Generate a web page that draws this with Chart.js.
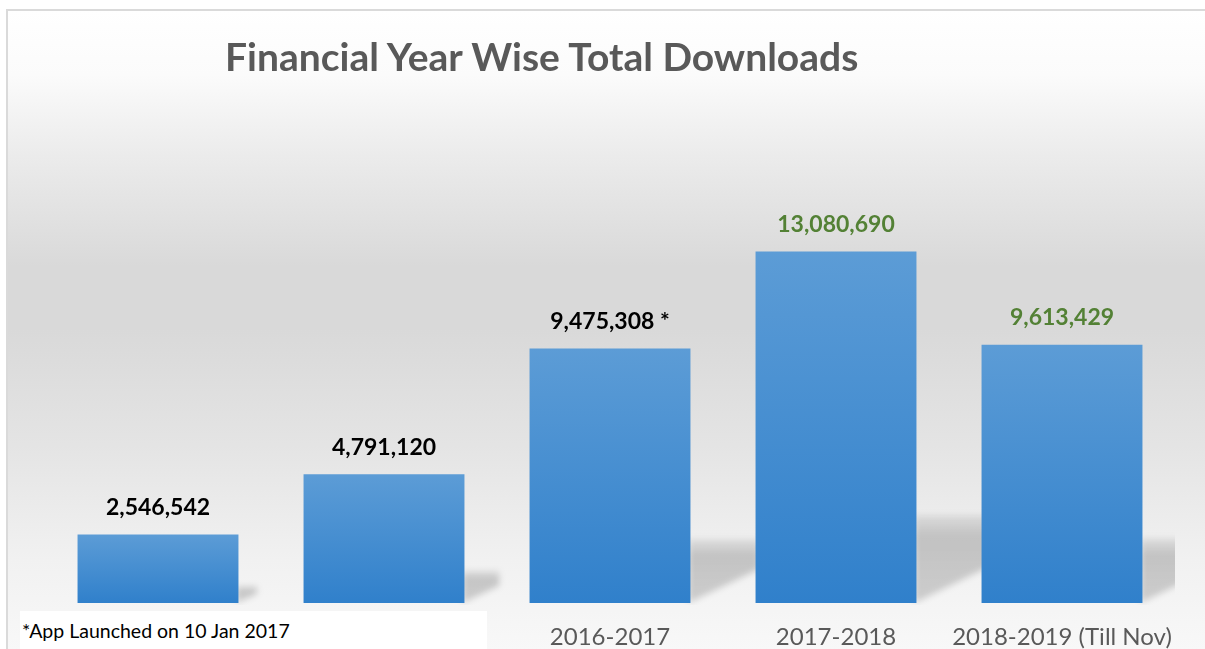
<!DOCTYPE html>
<html>
<head>
<meta charset="utf-8">
<title>Financial Year Wise Total Downloads</title>
<script src="https://cdn.jsdelivr.net/npm/chart.js@4/dist/chart.umd.min.js"></script>
<style>
  html, body { margin: 0; padding: 0; background: #ffffff; }
  body { width: 1205px; height: 649px; position: relative; overflow: hidden; font-family: Lato, "Open Sans", sans-serif; }
  /* panel with the grey sheen behind the bars */
  .panel {
    position: absolute; left: 6px; top: 9px; right: 0; bottom: 0;
    border-top: 2px solid #dadada; border-left: 2px solid #dadada;
    background: linear-gradient(to bottom,
      #ffffff 0%, #fbfbfb 10%, #ececec 22%, #d9d9d9 40%, #d9d9d9 50%,
      #e4e4e4 68%, #f1f1f1 86%, #f8f8f8 100%);
  }
  .chart-box { position: absolute; left: 0; top: 0; width: 1205px; height: 649px; }
  .title {
    position: absolute; left: 225px; top: 37px; margin: 0;
    font: bold 39px/1 Lato, sans-serif; color: #595959; white-space: nowrap;
  }
  .note {
    position: absolute; left: 20px; top: 611px; width: 467px; height: 38px;
    background: #ffffff; box-sizing: border-box; padding: 10px 0 0 2px;
    font: 19.5px/1 Lato, sans-serif; color: #000000; white-space: nowrap;
  }
</style>
</head>
<body>
<div class="panel"></div>
<div class="chart-box"><canvas id="downloadsChart"></canvas></div>
<h1 class="title">Financial Year Wise Total Downloads</h1>
<div class="note">*App Launched on 10 Jan 2017</div>

<script>
// DATA
const categories = ['', '', '2016-2017', '2017-2018', '2018-2019 (Till Nov)'];
const downloads = [2546542, 4791120, 9475308, 13080690, 9613429];
const valueNotes = ['', '', ' *', '', ''];

// label colours per bar (last two years in green)
const valueLabelColors = ['#000000', '#000000', '#000000', '#538135', '#538135'];

const BAR_TOP = '#5c9cd6';
const BAR_BOTTOM = '#3080cb';

// soft skewed shadow to the right of every bar
const barShadows = {
    id: 'barShadows',
    beforeDatasetsDraw(chart) {
        const ctx = chart.ctx;
        const area = chart.chartArea;
        ctx.save();
        ctx.beginPath();
        ctx.rect(area.left, area.top, area.right - area.left, area.bottom - area.top + 2);
        ctx.clip();
        ctx.filter = 'blur(3px)';
        chart.getDatasetMeta(0).data.forEach(bar => {
            const h = bar.base - bar.y;
            const r = bar.x + bar.width / 2;
            const sTop = bar.base - 0.25 * h;
            const w = 0.27 * h;
            const grad = ctx.createLinearGradient(0, sTop, 0, bar.base);
            grad.addColorStop(0, 'rgba(0,0,0,0.07)');
            grad.addColorStop(0.25, 'rgba(0,0,0,0.19)');
            grad.addColorStop(1, 'rgba(0,0,0,0.16)');
            ctx.fillStyle = grad;
            ctx.beginPath();
            ctx.moveTo(r - 2, sTop);
            ctx.lineTo(r + w, sTop);
            ctx.lineTo(r + w, sTop + 0.46 * (bar.base - sTop));
            ctx.lineTo(r - 2, bar.base);
            ctx.closePath();
            ctx.fill();
        });
        ctx.restore();
    }
};

// value labels above the bars
const valueLabels = {
    id: 'valueLabels',
    afterDatasetsDraw(chart) {
        const ctx = chart.ctx;
        ctx.save();
        ctx.font = 'bold 23px Lato, sans-serif';
        ctx.textAlign = 'center';
        ctx.textBaseline = 'middle';
        chart.getDatasetMeta(0).data.forEach((bar, i) => {
            ctx.fillStyle = valueLabelColors[i];
            const text = downloads[i].toLocaleString('en-US') + valueNotes[i];
            ctx.fillText(text, bar.x, bar.y - 27);
        });
        ctx.restore();
    }
};

function barGradient(context) {
    const chart = context.chart;
    const yScale = chart.scales.y;
    if (!yScale || !chart.chartArea) return BAR_BOTTOM;
    const top = yScale.getPixelForValue(downloads[context.dataIndex]);
    const base = yScale.getPixelForValue(0);
    const g = chart.ctx.createLinearGradient(0, top, 0, base);
    g.addColorStop(0, BAR_TOP);
    g.addColorStop(1, BAR_BOTTOM);
    return g;
}

const ctx = document.getElementById('downloadsChart').getContext('2d');
new Chart(ctx, {
    type: 'bar',
    data: {
        labels: categories,
        datasets: [{
            label: 'Downloads',
            data: downloads,
            backgroundColor: barGradient,
            borderWidth: 0,
            categoryPercentage: 1,
            barPercentage: 0.712
        }]
    },
    options: {
        responsive: true,
        maintainAspectRatio: false,
        animation: false,
        layout: { padding: { left: 45, right: 30, top: 200, bottom: 0 } },
        plugins: {
            legend: { display: false },
            tooltip: { enabled: false }
        },
        scales: {
            x: {
                grid: { display: false, drawTicks: false },
                border: { display: false },
                ticks: {
                    color: '#595959',
                    font: { family: 'Lato', size: 24 },
                    padding: 20,
                    maxRotation: 0,
                    autoSkip: false
                },
                afterFit(scale) { scale.height = 46; }
            },
            y: {
                display: false,
                min: 0,
                max: 15000000
            }
        }
    },
    plugins: [barShadows, valueLabels]
});
</script>
</body>
</html>
